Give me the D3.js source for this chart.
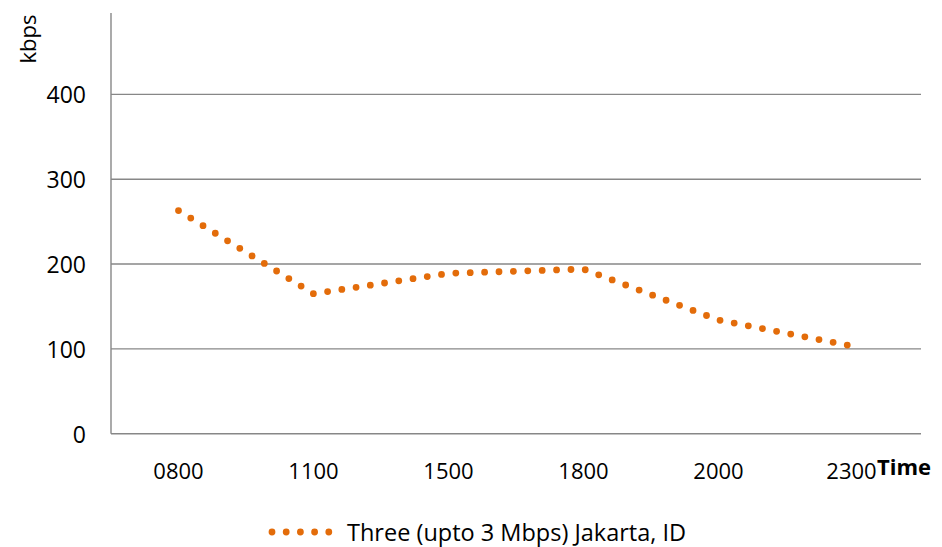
<!DOCTYPE html>
<html>
<head>
<meta charset="utf-8">
<script src="https://cdn.jsdelivr.net/npm/d3@7/dist/d3.min.js"></script>
<style>
  html, body { margin: 0; padding: 0; background: #fff; }
  svg { display: block; }
  text { font-family: "Open Sans", "Liberation Sans", sans-serif; fill: #000; }
</style>
</head>
<body>
<svg id="chart" width="942" height="547"></svg>
<script>
// Hourly sample labels along the time axis
const times = ["0800", "1100", "1500", "1800", "2000", "2300"];
// Measured throughput (kbps)
const speeds = [263, 165, 189, 194, 134, 103];
// Value-axis ticks
const yTicks = [0, 100, 200, 300, 400];
const seriesName = "Three (upto 3 Mbps) Jakarta, ID";

const plot = { left: 111, right: 921, top: 9.5, bottom: 433.7 };
const gridColor = "#878787";
const lineColor = "#e36c0a";

const svg = d3.select("#chart");

const x = d3.scaleBand()
  .domain(times)
  .range([plot.left, plot.right])
  .padding(0);

const y = d3.scaleLinear()
  .domain([0, 500])
  .range([plot.bottom, plot.top]);

const cx = d => x(d) + x.bandwidth() / 2;

// Horizontal gridlines
svg.append("g")
  .selectAll("line")
  .data(yTicks.filter(t => t > 0))
  .join("line")
  .attr("x1", plot.left)
  .attr("x2", plot.right)
  .attr("y1", d => y(d))
  .attr("y2", d => y(d))
  .attr("stroke", gridColor)
  .attr("stroke-width", 1.4);

// Value axis (left) and category axis (bottom)
svg.append("line")
  .attr("x1", plot.left).attr("x2", plot.left)
  .attr("y1", 13).attr("y2", y(0))
  .attr("stroke", gridColor).attr("stroke-width", 1.4);

svg.append("line")
  .attr("x1", plot.left).attr("x2", plot.right)
  .attr("y1", y(0)).attr("y2", y(0))
  .attr("stroke", gridColor).attr("stroke-width", 1.4);

// Y tick labels
svg.append("g")
  .selectAll("text")
  .data(yTicks)
  .join("text")
  .attr("x", 86)
  .attr("y", d => y(d))
  .attr("text-anchor", "end")
  .attr("dominant-baseline", "central")
  .attr("font-size", 23)
  .text(d => d);

// X tick labels
svg.append("g")
  .selectAll("text")
  .data(times)
  .join("text")
  .attr("x", d => cx(d) - (d === "2300" ? 2 : 0))
  .attr("y", 469.5)
  .attr("text-anchor", "middle")
  .attr("dominant-baseline", "central")
  .attr("font-size", 22)
  .text(d => d);

// Axis titles
svg.append("text")
  .attr("transform", "translate(27,39) rotate(-90)")
  .attr("text-anchor", "middle")
  .attr("dominant-baseline", "central")
  .attr("font-size", 22)
  .text("kbps");

svg.append("text")
  .attr("x", 877)
  .attr("y", 466)
  .attr("dominant-baseline", "central")
  .attr("font-size", 22)
  .attr("font-weight", "bold")
  .text("Time");

// Dotted series line
const line = d3.line()
  .x((d, i) => cx(times[i]))
  .y(d => y(d))
  .curve(d3.curveLinear);

svg.append("path")
  .datum(speeds)
  .attr("d", line)
  .attr("fill", "none")
  .attr("stroke", lineColor)
  .attr("stroke-width", 6.8)
  .attr("stroke-linecap", "round")
  .attr("stroke-dasharray", "0 14.4");

// Legend
const legend = svg.append("g");
legend.append("line")
  .attr("x1", 272).attr("x2", 329)
  .attr("y1", 532).attr("y2", 532)
  .attr("stroke", lineColor)
  .attr("stroke-width", 6.8)
  .attr("stroke-linecap", "round")
  .attr("stroke-dasharray", "0 14.2");

legend.append("text")
  .attr("x", 347)
  .attr("y", 532)
  .attr("dominant-baseline", "central")
  .attr("font-size", 23.5)
  .text(seriesName);
</script>
</body>
</html>
